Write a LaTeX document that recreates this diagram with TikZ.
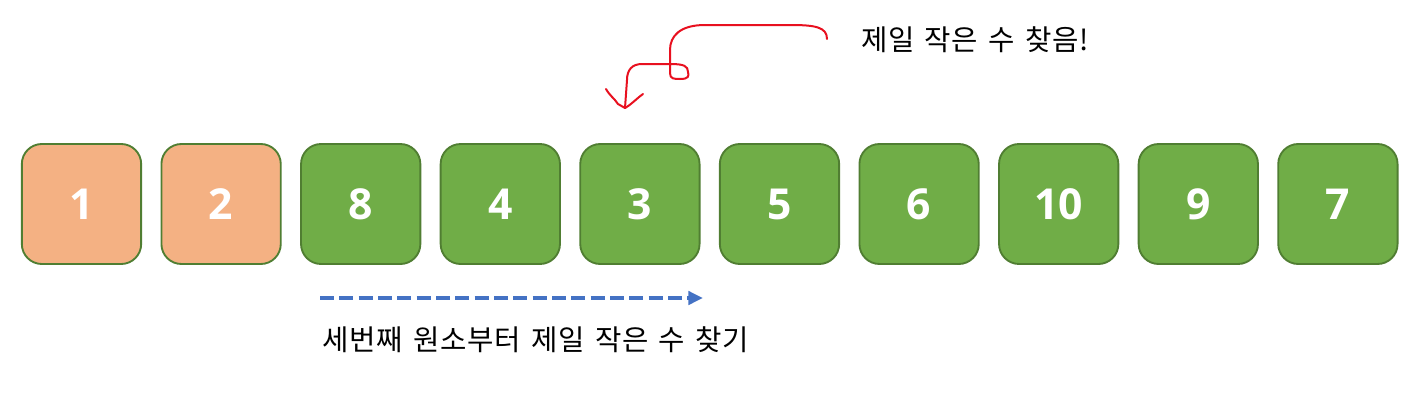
\documentclass[tikz,border=0pt]{standalone}
\usepackage{fontspec}
\setmainfont{Noto Sans CJK KR}
\newfontfamily\notefont{Noto Sans CJK KR}[WordSpace=1.5, LetterSpace=2]
\newfontfamily\numfont{Open Sans}
\usepackage{tikz}
\usetikzlibrary{arrows.meta, positioning}

\definecolor{cellgreen}{HTML}{70AD47}
\definecolor{cellborder}{HTML}{507E32}
\definecolor{cellorange}{HTML}{F4B183}
\definecolor{scanblue}{HTML}{4472C4}
\definecolor{inkred}{HTML}{E8101F}

\begin{document}
\begin{tikzpicture}[
            x=0.75pt, y=-0.75pt,
            node distance=13.8pt,
            cell/.style={
                rectangle,
                draw=cellborder,
                line width=1.4pt,
                rounded corners=15pt,
                minimum width=89.5pt,
                minimum height=90pt,
                fill=cellgreen,
                text=white,
                font=\numfont\bfseries\fontsize{32}{36}\selectfont
            },
            done/.style={cell, fill=cellorange},
            note/.style={font=\notefont\fontsize{21.5}{25}\selectfont, inner sep=0pt},
            scan/.style={-{Triangle[length=11pt,width=10pt]}, scanblue, line width=2.6pt, dash pattern=on 10.5pt off 4pt},
            ink/.style={inkred, line width=1.5pt, line cap=round, line join=round}
        ]
        \useasboundingbox (0,0) rectangle (1417,414);

        % Cells
        \node[done] (c1) at (81.5,204) {1};
        \node[done, right=of c1] (c2) {2};
        \node[cell, right=of c2] (c3) {8};
        \node[cell, right=of c3] (c4) {4};
        \node[cell, right=of c4] (c5) {3};
        \node[cell, right=of c5] (c6) {5};
        \node[cell, right=of c6] (c7) {6};
        \node[cell, right=of c7] (c8) {10};
        \node[cell, right=of c8] (c9) {9};
        \node[cell, right=of c9] (c10) {7};

        % Labels
        \node[note] (found) at (975,40) {제일 작은 수 찾음!};
        \node[note] (task) at (536,340) {세번째 원소부터 제일 작은 수 찾기};

        % Scan arrow
        \coordinate (scanfrom) at (320,298);
        \coordinate (scanto) at (703,298);
        \draw[scan] (scanfrom) -- (scanto);

        % Hand-drawn pointer
        \coordinate (inkfrom) at (827,39);
        \coordinate (inkto) at (625,108);
        \draw[ink] (inkfrom) .. controls (827,27) and (815,25) .. (790,25)
            -- (705,25) .. controls (680,25) and (670,36) .. (670,50)
            -- (670,73) .. controls (670,79) and (674,79) .. (680,79)
            .. controls (689,79) and (689,76) .. (688,72)
            .. controls (688,66) and (684,64) .. (670,64)
            -- (642,64) .. controls (632,64) and (627,70) .. (627,80)
            -- (inkto);
        \draw[ink] (606,89) .. controls (610,96) and (614,98) .. (618,104) -- (inkto);
        \draw[ink] (643,94) .. controls (636,99) and (632,104) .. (inkto);

\end{tikzpicture}
\end{document}
